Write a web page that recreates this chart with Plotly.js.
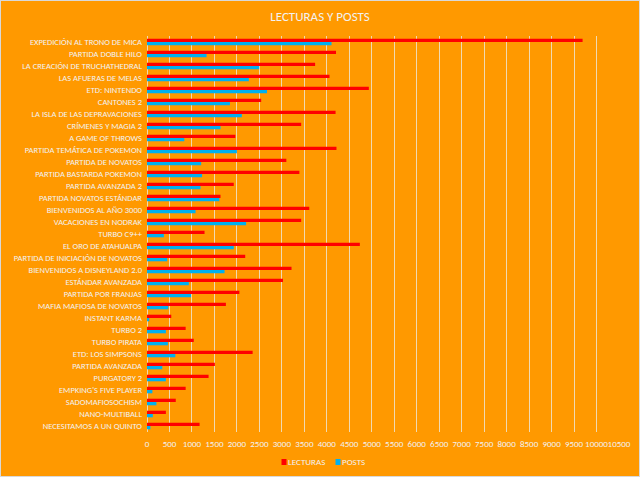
<!DOCTYPE html>
<html>
<head>
<meta charset="utf-8">
<script src="https://cdn.plot.ly/plotly-3.0.1.min.js"></script>
<style>
html,body{margin:0;padding:0;background:#FF9900;}
#chart{width:638px;height:475px;border:1px solid #D9D9D9;}
</style>
</head>
<body>
<div id="chart"></div>
<script>
var categories = [
  "EXPEDICIÓN AL TRONO DE MICA",
  "PARTIDA DOBLE HILO",
  "LA CREACIÓN DE TRUCHATHEDRAL",
  "LAS AFUERAS DE MELAS",
  "ETD: NINTENDO",
  "CANTONES 2",
  "LA ISLA DE LAS DEPRAVACIONES",
  "CRÍMENES Y MAGIA 2",
  "A GAME OF THROWS",
  "PARTIDA TEMÁTICA DE POKEMON",
  "PARTIDA DE NOVATOS",
  "PARTIDA BASTARDA POKEMON",
  "PARTIDA AVANZADA 2",
  "PARTIDA NOVATOS ESTÁNDAR",
  "BIENVENIDOS AL AÑO 3000",
  "VACACIONES EN NODRAK",
  "TURBO C9++",
  "EL ORO DE ATAHUALPA",
  "PARTIDA DE INICIACIÓN DE NOVATOS",
  "BIENVENIDOS A DISNEYLAND 2.0",
  "ESTÁNDAR AVANZADA",
  "PARTIDA POR FRANJAS",
  "MAFIA MAFIOSA DE NOVATOS",
  "INSTANT KARMA",
  "TURBO 2",
  "TURBO PIRATA",
  "ETD: LOS SIMPSONS",
  "PARTIDA AVANZADA",
  "PURGATORY 2",
  "EMPKING'S FIVE PLAYER",
  "SADOMAFIOSOCHISM",
  "NANO-MULTIBALL",
  "NECESITAMOS A UN QUINTO"
];
var lecturas = [9690, 4205, 3740, 4060, 4935, 2540, 4195, 3430, 1965, 4215,
  3100, 3390, 1930, 1635, 3610, 3430, 1280, 4735, 2185, 3215,
  3025, 2055, 1755, 540, 860, 1040, 2350, 1510, 1370, 860,
  640, 420, 1170];
var posts = [4105, 1325, 2495, 2265, 2670, 1845, 2110, 1635, 830, 2000,
  1205, 1225, 1190, 1610, 1080, 2205, 375, 1930, 450, 1725,
  930, 980, 475, 50, 420, 465, 630, 340, 420, 120,
  210, 130, 75];
var xTicks = [0,500,1000,1500,2000,2500,3000,3500,4000,4500,5000,5500,6000,6500,7000,7500,8000,8500,9000,9500,10000,10500];

var textColor = "#F2F2F2";
var gridColor = "#F0D9B2";
var data = [
  {type:"bar", orientation:"h", name:"LECTURAS", y:categories, x:lecturas,
   marker:{color:"#FF0000", line:{width:0}}},
  {type:"bar", orientation:"h", name:"POSTS", y:categories, x:posts,
   marker:{color:"#00B0F0", line:{width:0}}}
];
var layout = {
  width:638, height:475,
  paper_bgcolor:"#FF9900", plot_bgcolor:"#FF9900",
  margin:{l:146, r:20, t:35, b:44},
  font:{family:"Calibri, Carlito, 'Open Sans', sans-serif", size:9, color:textColor},
  title:{text:"LECTURAS Y POSTS", x:0.5, xanchor:"center", xref:"container",
    y:1 - 15/475, yanchor:"middle", yref:"container",
    font:{size:13, color:textColor}},
  barmode:"group", bargap:0.45, bargroupgap:0,
  showlegend:true,
  legend:{orientation:"h", x:0.5, xanchor:"center", xref:"container",
    y:15/475, yanchor:"middle", yref:"container",
    font:{size:9, color:textColor}, bgcolor:"rgba(0,0,0,0)",
    itemwidth:30, traceorder:"normal"},
  xaxis:{range:[0,10500], tickvals:xTicks, ticktext:xTicks.map(String), tickangle:0,
    showgrid:true, gridcolor:gridColor, gridwidth:1,
    zeroline:true, zerolinecolor:gridColor, zerolinewidth:1,
    showline:false, ticks:"", ticklabelstandoff:5, tickfont:{size:9, color:textColor},
    automargin:false, fixedrange:true},
  yaxis:{type:"category", autorange:"reversed", showgrid:false, zeroline:false,
    showline:false, ticks:"", ticklabelstandoff:4, tickfont:{size:8.5, color:textColor},
    automargin:false}
};

// Compact Excel-style legend: small squares right next to the text.
function compactLegend(gd){
  var traces = gd.querySelectorAll('.legend .traces');
  var offsets = [0, 54];
  traces.forEach(function(t, i){
    var m = /translate\(\s*([-\d.e]+)[ ,]+([-\d.e]+)\s*\)/.exec(t.getAttribute('transform') || '');
    var y = m ? m[2] : 0;
    t.setAttribute('transform', 'translate(' + (offsets[i] || 0) + ',' + y + ')');
    t.querySelectorAll('.legendpoints path').forEach(function(p){
      p.setAttribute('d', 'M2.5,3H-2.5V-3H2.5Z');
      p.setAttribute('transform', 'translate(3,1)');
    });
    var tx = t.querySelector('.legendtext');
    if (tx) { tx.setAttribute('x', 7); }
  });
  var lg = gd.querySelector('.legend');
  if (lg) {
    var m2 = /translate\(\s*([-\d.e]+)[ ,]+([-\d.e]+)\s*\)/.exec(lg.getAttribute('transform') || '');
    var ly = m2 ? m2[2] : 0;
    lg.setAttribute('transform', 'translate(' + 280 + ',' + ly + ')');
  }
}

var gd = document.getElementById("chart");
Plotly.newPlot(gd, data, layout, {displayModeBar:false, staticPlot:true}).then(function(){
  compactLegend(gd);
});
</script>
</body>
</html>
